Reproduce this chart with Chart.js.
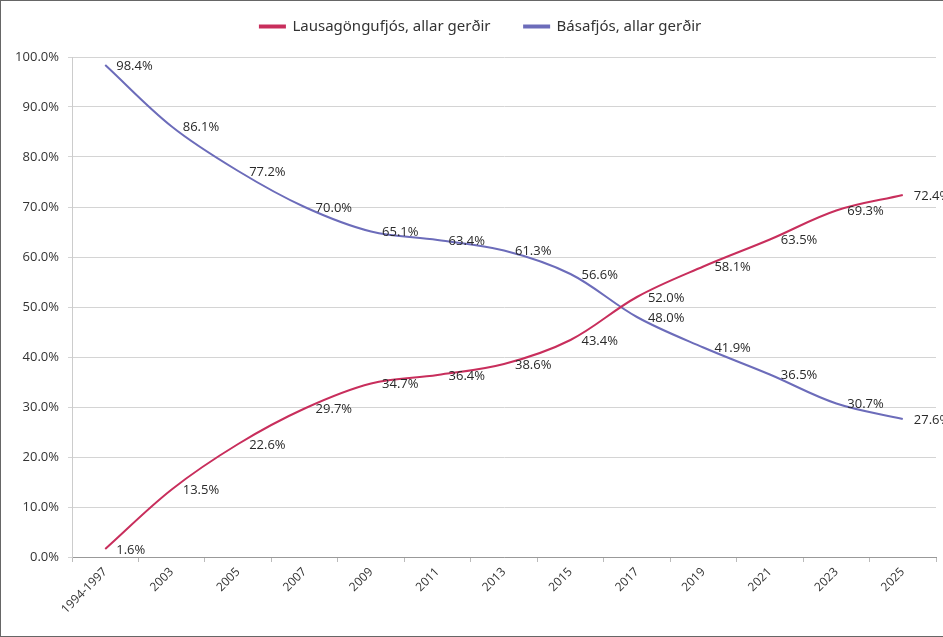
<!DOCTYPE html>
<html>
<head>
<meta charset="utf-8">
<script src="https://cdn.jsdelivr.net/npm/chart.js@4"></script>
<style>
  body { margin: 0; background: #fff; }
  #wrap { position: relative; width: 943px; height: 637px; box-sizing: border-box; border-left: 1px solid #666; border-top: 1px solid #666; border-bottom: 1px solid #666; }
</style>
</head>
<body>
<div id="wrap"><canvas id="myChart"></canvas></div>
<script>
var years = ["1994-1997", "2003", "2005", "2007", "2009", "2011", "2013", "2015", "2017", "2019", "2021", "2023", "2025"];
var lausagongu = [1.6, 13.5, 22.6, 29.7, 34.7, 36.4, 38.6, 43.4, 52.0, 58.1, 63.5, 69.3, 72.4];
var basafjos = [98.4, 86.1, 77.2, 70.0, 65.1, 63.4, 61.3, 56.6, 48.0, 41.9, 36.5, 30.7, 27.6];

var seriesColors = {
    "red": "rgb(200, 46, 92)",
    "blue": "rgb(108, 108, 186)"
};

// labels to the right of every point, like the excel export
var pointLabels = {
    id: 'pointLabels',
    afterDatasetsDraw: function(chart) {
        var ctx = chart.ctx;
        ctx.save();
        ctx.font = '13px "Open Sans"';
        ctx.fillStyle = '#2a2a2a';
        ctx.textAlign = 'left';
        ctx.textBaseline = 'middle';
        chart.data.datasets.forEach(function(ds, i) {
            chart.getDatasetMeta(i).data.forEach(function(pt, j) {
                ctx.fillText(ds.data[j].toFixed(1) + '%', pt.x + 11, pt.y + 1);
            });
        });
        ctx.restore();
    }
};

var config = {
    type: 'line',
    data: {
        labels: years,
        datasets: [{
            label: 'Lausagöngufjós, allar gerðir',
            data: lausagongu,
            borderColor: seriesColors.red,
            backgroundColor: seriesColors.red,
            borderWidth: 2,
            pointRadius: 0,
            tension: 0.35
        }, {
            label: 'Básafjós, allar gerðir',
            data: basafjos,
            borderColor: seriesColors.blue,
            backgroundColor: seriesColors.blue,
            borderWidth: 2,
            pointRadius: 0,
            tension: 0.35
        }]
    },
    options: {
        responsive: false,
        animation: false,
        layout: { padding: { left: 4, right: 7, top: 0, bottom: 0 } },
        plugins: {
            legend: {
                position: 'top',
                fullSize: false,
                labels: {
                    boxWidth: 25,
                    boxHeight: 2,
                    padding: 18,
                    color: '#333',
                    font: { family: '"Noto Sans"', size: 15 },
                    // spaces widen the gap and nudge the block left
                    generateLabels: function(chart) {
                        var items = Chart.defaults.plugins.legend.labels.generateLabels(chart);
                        items[0].text = items[0].text + '    ';
                        items[1].text = items[1].text + '            ';
                        return items;
                    }
                }
            },
            // empty spacer between legend and plot
            subtitle: {
                display: true,
                text: ' ',
                weight: 500,
                font: { size: 5, lineHeight: 1 },
                padding: { top: 3, bottom: 5 }
            },
            tooltip: { enabled: false }
        },
        scales: {
            x: {
                offset: true,
                grid: { drawOnChartArea: false, offset: true, tickLength: 5, color: '#bbb' },
                border: { color: '#999' },
                ticks: { minRotation: 45, maxRotation: 45, color: '#333', font: { family: '"Open Sans"', size: 12 } },
                afterFit: function(s) { s.height = 79; }
            },
            y: {
                min: 0,
                max: 100,
                ticks: {
                    stepSize: 10,
                    padding: 9,
                    color: '#333',
                    font: { family: '"Open Sans"', size: 13 },
                    callback: function(v) { return v.toFixed(1) + '%'; }
                },
                grid: { color: '#d4d4d4', tickLength: 4 },
                border: { color: '#ccc' },
                afterFit: function(s) { s.width = 67; }
            }
        }
    },
    plugins: [pointLabels]
};

var cv = document.getElementById("myChart");
cv.width = 942;
cv.height = 635;
new Chart(cv.getContext("2d"), config);
</script>
</body>
</html>
